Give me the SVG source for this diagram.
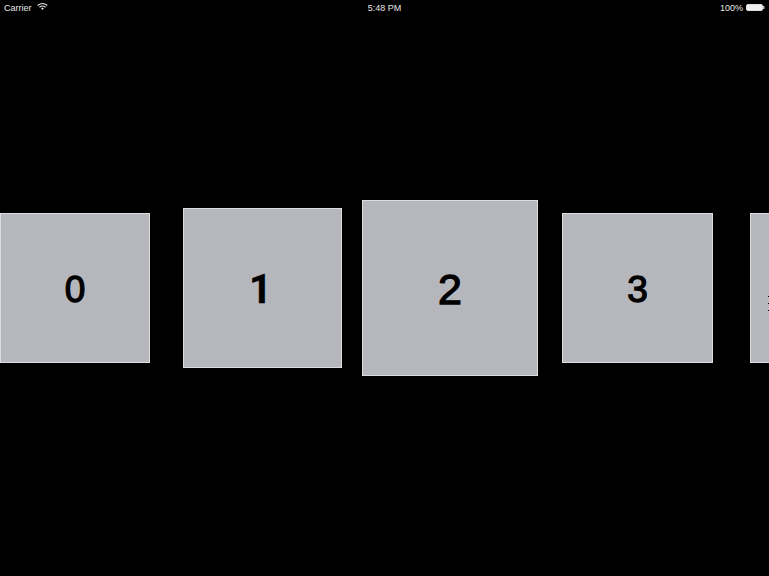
<svg xmlns="http://www.w3.org/2000/svg" width="769" height="576" viewBox="0 0 769 576">
<style>
.c{fill:#b6b7bc;stroke:#dcdcdf;stroke-width:1}
.n{font-family:"Liberation Sans",Arial,sans-serif;font-weight:400;fill:#000;text-anchor:middle;stroke:#000;stroke-width:1.3}
.one{font-family:Roboto,sans-serif;font-weight:700;stroke-width:.3}
.s{font-family:"Liberation Sans",Arial,sans-serif;font-size:9px;fill:#e8e8e8}
</style>
<rect width="769" height="576" fill="#000"/>
<g id="status">
<text class="s" x="4" y="11">Carrier</text>
<g fill="none" stroke="#e8e8e8" stroke-linecap="round">
<path d="M38 5.2Q42.500 1.800 47 5.200" stroke-width="1.100"/>
<path d="M39.800 7Q42.500 5 45.200 7" stroke-width="1.100"/>
</g>
<path d="M41.200 8.600L42.500 7.600L43.800 8.600L42.500 10Z" fill="#e8e8e8"/>
<text class="s" x="384.500" y="11" text-anchor="middle">5:48 PM</text>
<text class="s" x="720" y="11">100%</text>
<rect x="746.500" y="4.500" width="16" height="6" rx="1.500" fill="#f0f0f0" stroke="#ddd" stroke-width="1"/>
<rect x="763" y="6" width="1.500" height="3" fill="#bbb"/>
</g>
<g id="card0"><rect class="c" x="0.500" y="213.500" width="149" height="149"/><text class="n" x="75" y="301.500" font-size="37">0</text></g>
<g id="card1"><rect class="c" x="183.500" y="208.500" width="158" height="159"/><text class="n one" x="260.500" y="303" font-size="40">1</text></g>
<g id="card2"><rect class="c" x="362.500" y="200.500" width="175" height="175"/><text class="n" x="450" y="304" font-size="43">2</text></g>
<g id="card3"><rect class="c" x="562.500" y="213.500" width="150" height="149"/><text class="n" x="637.500" y="302" font-size="37">3</text></g>
<g id="card4"><rect class="c" x="750.500" y="213.500" width="30" height="149"/>
<path d="M768 296.500h1M768 303.500h1M768 310.500h1" stroke="#000" stroke-width="1"/></g>
</svg>
